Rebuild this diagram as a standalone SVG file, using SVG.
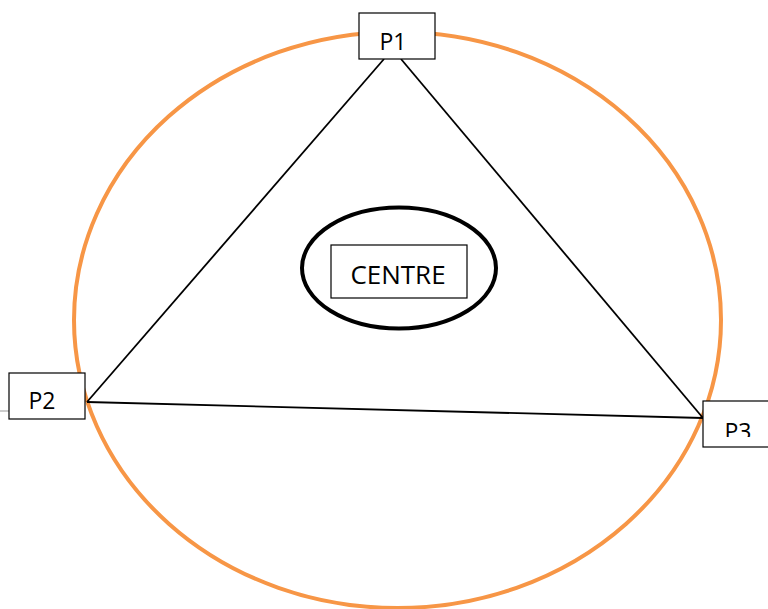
<svg xmlns="http://www.w3.org/2000/svg" width="768" height="609" viewBox="0 0 768 609">
<style>
.box{fill:#fff;stroke:#000;stroke-width:1.2}
.lbl{font-family:"Open Sans","Liberation Sans",sans-serif;font-size:23px;fill:#000;text-anchor:middle}
.edge{stroke:#000;stroke-width:1.8;fill:none}
</style>
<defs><clipPath id="c3"><rect x="703" y="401" width="65" height="36"/></clipPath></defs>
<rect width="768" height="609" fill="#fff"/>
<ellipse cx="397.5" cy="320" rx="323.5" ry="288" fill="none" stroke="#f79646" stroke-width="4"/>
<line x1="0" y1="411" x2="9" y2="411" stroke="#bbb" stroke-width="1.5"/>
<g id="connectors">
<line class="edge" x1="384" y1="59" x2="87" y2="402"/>
<line class="edge" x1="401" y1="59" x2="703" y2="418"/>
<line class="edge" x1="87" y1="402" x2="703" y2="418"/>
</g>
<g id="centre">
<ellipse cx="399" cy="268" rx="97" ry="60.5" fill="none" stroke="#000" stroke-width="4"/>
<rect class="box" x="331" y="245" width="136" height="53"/>
<text class="lbl" x="398" y="284" style="font-size:26px">CENTRE</text>
</g>
<g id="p1">
<rect class="box" x="359" y="13" width="76" height="46"/>
<text class="lbl" x="393" y="50">P1</text>
</g>
<g id="p2">
<rect class="box" x="9" y="373" width="76" height="46"/>
<text class="lbl" x="42" y="409">P2</text>
</g>
<g id="p3">
<rect class="box" x="703" y="401" width="76" height="46"/>
<text class="lbl" x="738" y="440" clip-path="url(#c3)">P3</text>
</g>
</svg>
